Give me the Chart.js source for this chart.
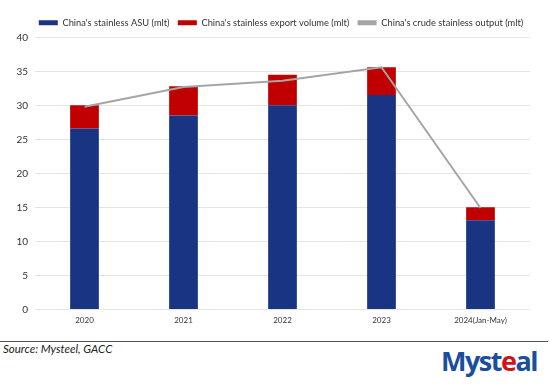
<!DOCTYPE html>
<html>
<head>
<meta charset="utf-8">
<script src="https://cdn.jsdelivr.net/npm/chart.js@4"></script>
<style>
  html, body { margin: 0; padding: 0; background: #fff; width: 554px; height: 389px; overflow: hidden; }
  #wrap { position: absolute; left: 0; top: 0; width: 554px; height: 331px; }
  #rule { position: absolute; left: 0; top: 341px; width: 548px; height: 1px; background: #555; }
  #source { position: absolute; left: 3px; top: 342px; font: italic 11.5px Lato, "Liberation Sans", sans-serif; color: #222; }
  #logo { position: absolute; left: 441px; top: 342px; font: bold 27px "Open Sans", "DejaVu Sans", sans-serif; color: #1b4e9b; letter-spacing: -1.5px; }
  #logo span { color: #d0131a; }
</style>
</head>
<body>
<div id="wrap"><canvas id="chart"></canvas></div>
<div id="rule"></div>
<div id="source">Source: Mysteel, GACC</div>
<div id="logo">Myst<span>e</span>al</div>
<script>
const years = ['2020', '2021', '2022', '2023', '2024(Jan-May)'];
const asu = [26.6, 28.5, 30.0, 31.5, 13.1];
const exportVol = [3.4, 4.3, 4.5, 4.1, 1.9];
const crudeOutput = [29.8, 32.7, 33.6, 35.6, 14.9];
const yTicks = [0, 5, 10, 15, 20, 25, 30, 35, 40];

const font = { family: 'Lato, "Liberation Sans", sans-serif', size: 10 };

// legend sits a bit right of canvas centre in the original
const legendShift = {
  id: 'legendShift',
  afterLayout(chart) {
    chart.legend.left += 16;
    chart.legend.right += 16;
  },
};

new Chart(document.getElementById('chart'), {
  data: {
    labels: years,
    datasets: [
      { type: 'line', label: "China's crude stainless output (mlt)", data: crudeOutput, borderColor: '#a5a5a5', borderWidth: 2, pointRadius: 0, tension: 0, order: 0 },
      { type: 'bar', label: "China's stainless ASU (mlt)", data: asu, backgroundColor: '#183482', stack: 's', barPercentage: 0.29, categoryPercentage: 1, order: 1 },
      { type: 'bar', label: "China's stainless export volume (mlt)", data: exportVol, backgroundColor: '#c00000', stack: 's', barPercentage: 0.29, categoryPercentage: 1, order: 1 },
    ],
  },
  plugins: [legendShift],
  options: {
    responsive: true,
    maintainAspectRatio: false,
    animation: false,
    layout: { padding: { left: 0, right: 24, top: 14.5, bottom: 0 } },
    plugins: {
      tooltip: { enabled: false },
      legend: {
        position: 'top',
        labels: {
          font: { ...font, size: 9.3 },
          color: '#333',
          boxWidth: 19,
          boxHeight: 5,
          padding: 3.5,
          // trailing spaces give the gap between items
          generateLabels: chart => [1, 2, 0].map((i, k) => {
            const ds = chart.data.datasets[i];
            const c = ds.type === 'line' ? ds.borderColor : ds.backgroundColor;
            return { text: k < 2 ? ds.label + '  ' : ds.label, fillStyle: c, strokeStyle: c, lineWidth: 0, datasetIndex: i, fontColor: '#333' };
          }),
        },
      },
    },
    scales: {
      x: {
        stacked: true,
        grid: { display: false, drawTicks: false },
        border: { display: false },
        ticks: { font: { ...font, size: 8 }, color: '#333', maxRotation: 0, padding: 6 },
      },
      y: {
        stacked: true,
        min: 0,
        max: 40,
        afterBuildTicks: s => { s.ticks = yTicks.map(v => ({ value: v })); },
        afterFit: s => { s.width = 35; },
        grid: { color: '#e4e4e4', drawTicks: false },
        border: { display: false },
        ticks: { font, color: '#333', padding: 7 },
      },
    },
  },
});
</script>
</body>
</html>
